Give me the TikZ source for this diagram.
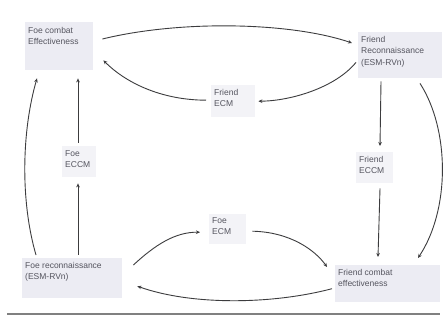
\documentclass[tikz,border=0pt]{standalone}
\usepackage{fontspec}
\setmainfont{Liberation Sans}
\usetikzlibrary{calc,arrows.meta}
\definecolor{boxfill}{RGB}{236,236,243}
\definecolor{boxfilllt}{RGB}{243,243,247}
\definecolor{txt}{RGB}{85,85,95}
\definecolor{linec}{RGB}{60,60,62}
\begin{document}
\begin{tikzpicture}[x=1pt,y=-1pt,
  box/.style={fill=boxfill,inner sep=3pt,anchor=north west,text=txt,
    font=\fontsize{8.5}{11.5}\selectfont},
  smallbox/.style={box,fill=boxfilllt},
  arr/.style={draw=linec,line width=0.9pt,-{Stealth[length=4pt,width=3.6pt]}}]
\useasboundingbox (0,0) rectangle (444,320);
\fill[white] (0,0) rectangle (444,320);
% nodes
\node[box] (fce) at (25,22) {\parbox[c][42pt][t]{62pt}{\vspace{2pt}Foe combat\\Effectiveness}};
\node[box] (frr) at (358,32) {\parbox[c][40pt][t]{78pt}{\vspace{1pt}Friend\\Reconnaissance\\(ESM-RVn)}};
\node[smallbox] (fecm) at (211,85) {\parbox[c][26pt][t]{38pt}{\vspace{1pt}Friend\\ECM}};
\node[smallbox] (feccm) at (62,146) {\parbox[c][25pt][t]{28pt}{\vspace{1pt}Foe\\ECCM}};
\node[smallbox] (freccm) at (356,152) {\parbox[c][25pt][t]{31pt}{\vspace{1pt}Friend\\ECCM}};
\node[smallbox] (fopecm) at (209,214) {\parbox[c][24pt][t]{31pt}{Foe\\ECM}};
\node[box] (forr) at (22,258) {\parbox[c][34pt][t]{94pt}{\vspace{1pt}Foe reconnaissance\\(ESM-RVn)}};
\node[box] (frce) at (335,265) {\parbox[c][31pt][t]{99pt}{\vspace{1pt}Friend combat\\effectiveness}};
% connectors
\draw[arr] ($(fce.north east)+(9,17)$) .. controls (180,20) and (290,22) .. ($(frr.north west)+(-6,11)$);
\draw[arr] ($(frr.south west)+(-2,-16)$) .. controls (335,88) and (290,101) .. ($(fecm.east)+(3,0)$);
\draw[arr] ($(fecm.west)+(-5,-1)$) .. controls (160,100) and (125,82) .. ($(fce.south east)+(10,-10)$);
\draw[arr] ($(feccm.north west)+(16,-3)$) -- ($(fce.south west)+(53,8)$);
\draw[arr] ($(forr.north west)+(56,-3)$) -- ($(feccm.south west)+(16,6)$);
\draw[arr] ($(forr.north west)+(14,-3)$) .. controls (20,200) and (22,130) .. ($(fce.south west)+(12,8)$);
\draw[arr] ($(forr.north east)+(11,7)$) .. controls (155,245) and (175,232) .. ($(fopecm.west)+(-9,3)$);
\draw[arr] ($(fopecm.east)+(6,2)$) .. controls (290,232) and (315,250) .. ($(frce.north west)+(-8,2)$);
\draw[arr] ($(frce.west)+(-3,5)$) .. controls (270,305) and (190,305) .. ($(forr.east)+(15,8)$);
\draw[arr] ($(frr.south west)+(23,3)$) -- ($(freccm.north west)+(24,-6)$);
\draw[arr] ($(freccm.south west)+(24,5)$) -- ($(frce.north west)+(43,-8)$);
\draw[arr] ($(frr.south west)+(62,5)$) .. controls (450,130) and (450,210) .. ($(frce.north west)+(83,-7)$);
% bottom rule
\draw[draw=black!50,line width=1.2pt] (7,314) -- (440,314);
\end{tikzpicture}
\end{document}
